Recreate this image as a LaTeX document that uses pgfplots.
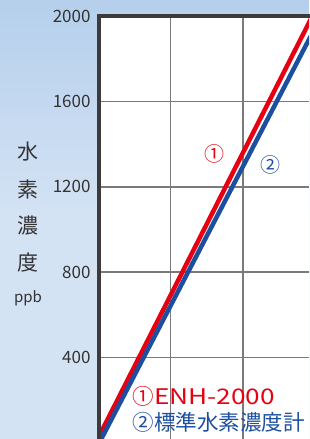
\documentclass[border=0pt]{standalone}
\usepackage{pgfplots}
\pgfplotsset{compat=1.18}
\usepackage{fontspec}
\setmainfont{Noto Sans CJK JP}
\definecolor{bgtop}{HTML}{B5CFEC}
\definecolor{bgbot}{HTML}{D4E3F4}
\definecolor{axcol}{HTML}{3C3A3A}
\definecolor{gridcol}{HTML}{7A7A7A}
\definecolor{myred}{HTML}{E60012}
\definecolor{myblue}{HTML}{1D4FA0}
\definecolor{txt}{HTML}{333333}
\begin{document}
\begin{tikzpicture}[x=1pt,y=1pt]
\useasboundingbox (0,0) rectangle (309,439);
\shade[top color=bgtop, bottom color=bgbot, middle color=bgbot] (0,0) rectangle (309,439);
\begin{axis}[
  at={(98.5pt,0pt)}, anchor=south west,
  scale only axis, width=210.5pt, height=423pt,
  xmin=0, xmax=2.915, ymin=19, ymax=2000,
  xtick={1,2}, xticklabels={},
  ytick={400,800,1200,1600,2000},
  grid=major,
  major grid style={gridcol, line width=1.5pt},
  axis line style={draw=none},
  major tick style={draw=none},
  axis background/.style={fill=white},
  clip mode=individual,
  /pgf/number format/1000 sep={},
  /pgf/number format/assume math mode=true,
  yticklabel style={font=\fontsize{17}{17}\selectfont, text=txt, anchor=east, inner sep=0pt, xshift=-7.8pt},
]
\addplot[myred, line width=4.5pt, forget plot] coordinates {(0,27) (2.95,1992)};
\addplot[myblue, line width=4.5pt, forget plot] coordinates {(0,-6) (2.95,1913)};
\draw[axcol, line width=4pt] (rel axis cs:0,0) -- (rel axis cs:0,1) -- (rel axis cs:1.05,1);
\end{axis}
\node[font=\fontsize{21}{21}\selectfont, text=txt] at (27.5,287) {水};
\node[font=\fontsize{21}{21}\selectfont, text=txt] at (27.5,249) {素};
\node[font=\fontsize{21}{21}\selectfont, text=txt] at (27.5,213) {濃};
\node[font=\fontsize{21}{21}\selectfont, text=txt] at (27.5,176) {度};
\node[font=\fontsize{15}{15}\selectfont, text=txt] at (28,141) {ppb};
\node[font=\fontsize{20}{20}\selectfont, text=myred] at (214,285.5) {①};
\node[font=\fontsize{20}{20}\selectfont, text=myblue] at (270,274) {②};
\node[font=\fontsize{21.5}{21.5}\selectfont, text=myred, anchor=west, inner sep=0pt] at (132.3,42.5) {①\scalebox{1.22}[1]{ENH-2000}};
\node[font=\fontsize{21.5}{21.5}\selectfont, text=myblue, anchor=west, inner sep=0pt] at (132.3,17) {②標準水素濃度計};
\end{tikzpicture}
\end{document}
